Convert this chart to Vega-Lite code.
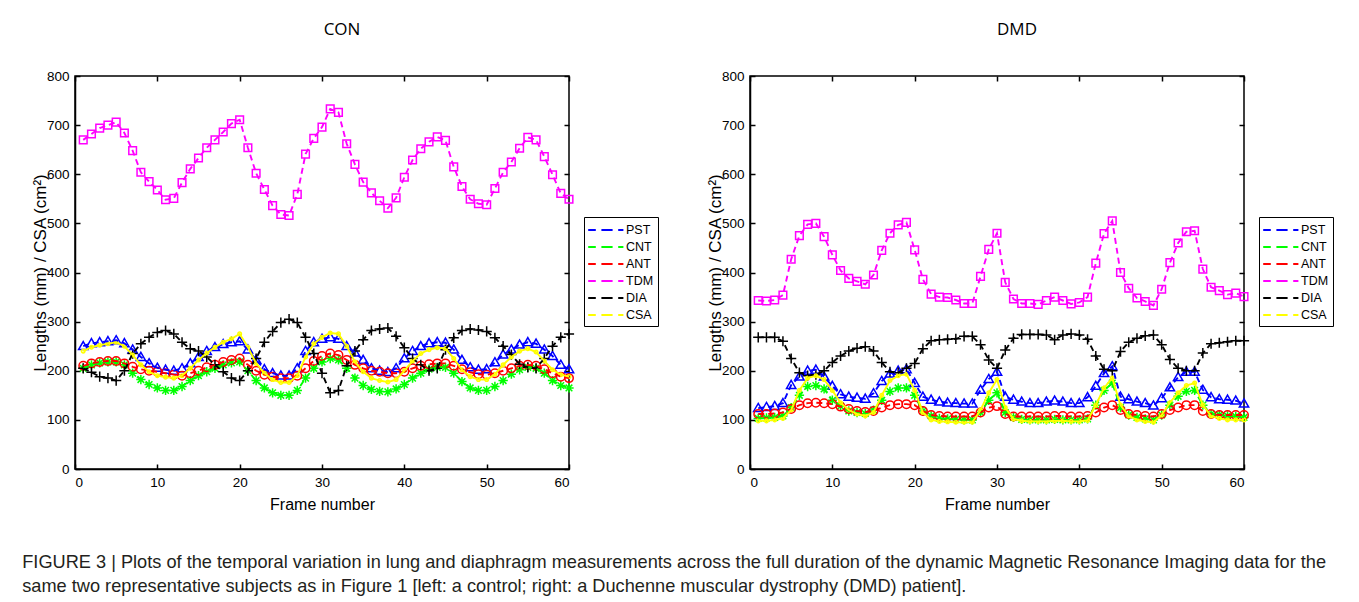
{
"$schema": "https://vega.github.io/schema/vega-lite/v6.json",
"background": "white",
"padding": {"left": 22, "top": 20, "right": 5, "bottom": 5},
"title": {"text": ["FIGURE 3 | Plots of the temporal variation in lung and diaphragm measurements across the full duration of the dynamic Magnetic Resonance Imaging data for the", "same two representative subjects as in Figure 1 [left: a control; right: a Duchenne muscular dystrophy (DMD) patient]."], "orient": "bottom", "anchor": "start", "frame": "bounds", "offset": 41, "dx": -8.5, "font": "Liberation Sans", "fontSize": 18.2, "fontWeight": "normal", "lineHeight": 24, "color": "#231F20"},
"datasets": {
"CON": [
{"series":"PST","frame":1,"value":250},{"series":"PST","frame":2,"value":256},{"series":"PST","frame":3,"value":258},{"series":"PST","frame":4,"value":260},{"series":"PST","frame":5,"value":262},{"series":"PST","frame":6,"value":256},{"series":"PST","frame":7,"value":243},{"series":"PST","frame":8,"value":228},{"series":"PST","frame":9,"value":215},{"series":"PST","frame":10,"value":206},{"series":"PST","frame":11,"value":202},{"series":"PST","frame":12,"value":200},{"series":"PST","frame":13,"value":205},{"series":"PST","frame":14,"value":215},{"series":"PST","frame":15,"value":228},{"series":"PST","frame":16,"value":240},{"series":"PST","frame":17,"value":248},{"series":"PST","frame":18,"value":254},{"series":"PST","frame":19,"value":258},{"series":"PST","frame":20,"value":260},{"series":"PST","frame":21,"value":243},{"series":"PST","frame":22,"value":222},{"series":"PST","frame":23,"value":203},{"series":"PST","frame":24,"value":195},{"series":"PST","frame":25,"value":190},{"series":"PST","frame":26,"value":190},{"series":"PST","frame":27,"value":205},{"series":"PST","frame":28,"value":240},{"series":"PST","frame":29,"value":258},{"series":"PST","frame":30,"value":265},{"series":"PST","frame":31,"value":268},{"series":"PST","frame":32,"value":265},{"series":"PST","frame":33,"value":250},{"series":"PST","frame":34,"value":237},{"series":"PST","frame":35,"value":222},{"series":"PST","frame":36,"value":205},{"series":"PST","frame":37,"value":200},{"series":"PST","frame":38,"value":197},{"series":"PST","frame":39,"value":205},{"series":"PST","frame":40,"value":225},{"series":"PST","frame":41,"value":240},{"series":"PST","frame":42,"value":250},{"series":"PST","frame":43,"value":256},{"series":"PST","frame":44,"value":258},{"series":"PST","frame":45,"value":257},{"series":"PST","frame":46,"value":243},{"series":"PST","frame":47,"value":222},{"series":"PST","frame":48,"value":207},{"series":"PST","frame":49,"value":202},{"series":"PST","frame":50,"value":203},{"series":"PST","frame":51,"value":217},{"series":"PST","frame":52,"value":233},{"series":"PST","frame":53,"value":243},{"series":"PST","frame":54,"value":253},{"series":"PST","frame":55,"value":258},{"series":"PST","frame":56,"value":255},{"series":"PST","frame":57,"value":243},{"series":"PST","frame":58,"value":230},{"series":"PST","frame":59,"value":212},{"series":"PST","frame":60,"value":203},
{"series":"CNT","frame":1,"value":205},{"series":"CNT","frame":2,"value":212},{"series":"CNT","frame":3,"value":216},{"series":"CNT","frame":4,"value":218},{"series":"CNT","frame":5,"value":218},{"series":"CNT","frame":6,"value":212},{"series":"CNT","frame":7,"value":195},{"series":"CNT","frame":8,"value":182},{"series":"CNT","frame":9,"value":172},{"series":"CNT","frame":10,"value":165},{"series":"CNT","frame":11,"value":160},{"series":"CNT","frame":12,"value":160},{"series":"CNT","frame":13,"value":168},{"series":"CNT","frame":14,"value":180},{"series":"CNT","frame":15,"value":190},{"series":"CNT","frame":16,"value":198},{"series":"CNT","frame":17,"value":205},{"series":"CNT","frame":18,"value":212},{"series":"CNT","frame":19,"value":216},{"series":"CNT","frame":20,"value":218},{"series":"CNT","frame":21,"value":200},{"series":"CNT","frame":22,"value":180},{"series":"CNT","frame":23,"value":165},{"series":"CNT","frame":24,"value":155},{"series":"CNT","frame":25,"value":150},{"series":"CNT","frame":26,"value":150},{"series":"CNT","frame":27,"value":160},{"series":"CNT","frame":28,"value":185},{"series":"CNT","frame":29,"value":205},{"series":"CNT","frame":30,"value":218},{"series":"CNT","frame":31,"value":225},{"series":"CNT","frame":32,"value":222},{"series":"CNT","frame":33,"value":205},{"series":"CNT","frame":34,"value":185},{"series":"CNT","frame":35,"value":170},{"series":"CNT","frame":36,"value":162},{"series":"CNT","frame":37,"value":158},{"series":"CNT","frame":38,"value":157},{"series":"CNT","frame":39,"value":163},{"series":"CNT","frame":40,"value":172},{"series":"CNT","frame":41,"value":185},{"series":"CNT","frame":42,"value":195},{"series":"CNT","frame":43,"value":203},{"series":"CNT","frame":44,"value":207},{"series":"CNT","frame":45,"value":207},{"series":"CNT","frame":46,"value":195},{"series":"CNT","frame":47,"value":178},{"series":"CNT","frame":48,"value":165},{"series":"CNT","frame":49,"value":160},{"series":"CNT","frame":50,"value":160},{"series":"CNT","frame":51,"value":168},{"series":"CNT","frame":52,"value":180},{"series":"CNT","frame":53,"value":193},{"series":"CNT","frame":54,"value":202},{"series":"CNT","frame":55,"value":207},{"series":"CNT","frame":56,"value":205},{"series":"CNT","frame":57,"value":195},{"series":"CNT","frame":58,"value":180},{"series":"CNT","frame":59,"value":170},{"series":"CNT","frame":60,"value":165},
{"series":"ANT","frame":1,"value":210},{"series":"ANT","frame":2,"value":215},{"series":"ANT","frame":3,"value":218},{"series":"ANT","frame":4,"value":220},{"series":"ANT","frame":5,"value":220},{"series":"ANT","frame":6,"value":215},{"series":"ANT","frame":7,"value":208},{"series":"ANT","frame":8,"value":203},{"series":"ANT","frame":9,"value":200},{"series":"ANT","frame":10,"value":198},{"series":"ANT","frame":11,"value":195},{"series":"ANT","frame":12,"value":192},{"series":"ANT","frame":13,"value":190},{"series":"ANT","frame":14,"value":195},{"series":"ANT","frame":15,"value":200},{"series":"ANT","frame":16,"value":207},{"series":"ANT","frame":17,"value":212},{"series":"ANT","frame":18,"value":218},{"series":"ANT","frame":19,"value":222},{"series":"ANT","frame":20,"value":225},{"series":"ANT","frame":21,"value":212},{"series":"ANT","frame":22,"value":200},{"series":"ANT","frame":23,"value":192},{"series":"ANT","frame":24,"value":188},{"series":"ANT","frame":25,"value":185},{"series":"ANT","frame":26,"value":185},{"series":"ANT","frame":27,"value":190},{"series":"ANT","frame":28,"value":205},{"series":"ANT","frame":29,"value":220},{"series":"ANT","frame":30,"value":230},{"series":"ANT","frame":31,"value":235},{"series":"ANT","frame":32,"value":232},{"series":"ANT","frame":33,"value":222},{"series":"ANT","frame":34,"value":212},{"series":"ANT","frame":35,"value":205},{"series":"ANT","frame":36,"value":200},{"series":"ANT","frame":37,"value":198},{"series":"ANT","frame":38,"value":195},{"series":"ANT","frame":39,"value":195},{"series":"ANT","frame":40,"value":198},{"series":"ANT","frame":41,"value":205},{"series":"ANT","frame":42,"value":210},{"series":"ANT","frame":43,"value":213},{"series":"ANT","frame":44,"value":215},{"series":"ANT","frame":45,"value":215},{"series":"ANT","frame":46,"value":210},{"series":"ANT","frame":47,"value":203},{"series":"ANT","frame":48,"value":197},{"series":"ANT","frame":49,"value":193},{"series":"ANT","frame":50,"value":192},{"series":"ANT","frame":51,"value":195},{"series":"ANT","frame":52,"value":200},{"series":"ANT","frame":53,"value":205},{"series":"ANT","frame":54,"value":210},{"series":"ANT","frame":55,"value":212},{"series":"ANT","frame":56,"value":210},{"series":"ANT","frame":57,"value":203},{"series":"ANT","frame":58,"value":195},{"series":"ANT","frame":59,"value":188},{"series":"ANT","frame":60,"value":185},
{"series":"TDM","frame":1,"value":670},{"series":"TDM","frame":2,"value":682},{"series":"TDM","frame":3,"value":694},{"series":"TDM","frame":4,"value":700},{"series":"TDM","frame":5,"value":706},{"series":"TDM","frame":6,"value":684},{"series":"TDM","frame":7,"value":648},{"series":"TDM","frame":8,"value":604},{"series":"TDM","frame":9,"value":585},{"series":"TDM","frame":10,"value":568},{"series":"TDM","frame":11,"value":548},{"series":"TDM","frame":12,"value":551},{"series":"TDM","frame":13,"value":583},{"series":"TDM","frame":14,"value":611},{"series":"TDM","frame":15,"value":633},{"series":"TDM","frame":16,"value":654},{"series":"TDM","frame":17,"value":670},{"series":"TDM","frame":18,"value":686},{"series":"TDM","frame":19,"value":703},{"series":"TDM","frame":20,"value":711},{"series":"TDM","frame":21,"value":654},{"series":"TDM","frame":22,"value":602},{"series":"TDM","frame":23,"value":569},{"series":"TDM","frame":24,"value":536},{"series":"TDM","frame":25,"value":518},{"series":"TDM","frame":26,"value":516},{"series":"TDM","frame":27,"value":559},{"series":"TDM","frame":28,"value":641},{"series":"TDM","frame":29,"value":673},{"series":"TDM","frame":30,"value":696},{"series":"TDM","frame":31,"value":733},{"series":"TDM","frame":32,"value":726},{"series":"TDM","frame":33,"value":662},{"series":"TDM","frame":34,"value":620},{"series":"TDM","frame":35,"value":584},{"series":"TDM","frame":36,"value":562},{"series":"TDM","frame":37,"value":546},{"series":"TDM","frame":38,"value":531},{"series":"TDM","frame":39,"value":552},{"series":"TDM","frame":40,"value":594},{"series":"TDM","frame":41,"value":629},{"series":"TDM","frame":42,"value":652},{"series":"TDM","frame":43,"value":666},{"series":"TDM","frame":44,"value":676},{"series":"TDM","frame":45,"value":669},{"series":"TDM","frame":46,"value":615},{"series":"TDM","frame":47,"value":575},{"series":"TDM","frame":48,"value":549},{"series":"TDM","frame":49,"value":540},{"series":"TDM","frame":50,"value":538},{"series":"TDM","frame":51,"value":571},{"series":"TDM","frame":52,"value":604},{"series":"TDM","frame":53,"value":625},{"series":"TDM","frame":54,"value":653},{"series":"TDM","frame":55,"value":675},{"series":"TDM","frame":56,"value":670},{"series":"TDM","frame":57,"value":636},{"series":"TDM","frame":58,"value":599},{"series":"TDM","frame":59,"value":561},{"series":"TDM","frame":60,"value":549},
{"series":"DIA","frame":1,"value":205},{"series":"DIA","frame":2,"value":197},{"series":"DIA","frame":3,"value":188},{"series":"DIA","frame":4,"value":185},{"series":"DIA","frame":5,"value":180},{"series":"DIA","frame":6,"value":200},{"series":"DIA","frame":7,"value":235},{"series":"DIA","frame":8,"value":255},{"series":"DIA","frame":9,"value":268},{"series":"DIA","frame":10,"value":278},{"series":"DIA","frame":11,"value":282},{"series":"DIA","frame":12,"value":275},{"series":"DIA","frame":13,"value":258},{"series":"DIA","frame":14,"value":245},{"series":"DIA","frame":15,"value":240},{"series":"DIA","frame":16,"value":228},{"series":"DIA","frame":17,"value":212},{"series":"DIA","frame":18,"value":198},{"series":"DIA","frame":19,"value":185},{"series":"DIA","frame":20,"value":180},{"series":"DIA","frame":21,"value":200},{"series":"DIA","frame":22,"value":225},{"series":"DIA","frame":23,"value":258},{"series":"DIA","frame":24,"value":280},{"series":"DIA","frame":25,"value":298},{"series":"DIA","frame":26,"value":305},{"series":"DIA","frame":27,"value":298},{"series":"DIA","frame":28,"value":268},{"series":"DIA","frame":29,"value":235},{"series":"DIA","frame":30,"value":195},{"series":"DIA","frame":31,"value":155},{"series":"DIA","frame":32,"value":160},{"series":"DIA","frame":33,"value":210},{"series":"DIA","frame":34,"value":240},{"series":"DIA","frame":35,"value":263},{"series":"DIA","frame":36,"value":282},{"series":"DIA","frame":37,"value":285},{"series":"DIA","frame":38,"value":287},{"series":"DIA","frame":39,"value":270},{"series":"DIA","frame":40,"value":247},{"series":"DIA","frame":41,"value":225},{"series":"DIA","frame":42,"value":212},{"series":"DIA","frame":43,"value":200},{"series":"DIA","frame":44,"value":205},{"series":"DIA","frame":45,"value":243},{"series":"DIA","frame":46,"value":267},{"series":"DIA","frame":47,"value":282},{"series":"DIA","frame":48,"value":285},{"series":"DIA","frame":49,"value":283},{"series":"DIA","frame":50,"value":280},{"series":"DIA","frame":51,"value":267},{"series":"DIA","frame":52,"value":250},{"series":"DIA","frame":53,"value":233},{"series":"DIA","frame":54,"value":213},{"series":"DIA","frame":55,"value":207},{"series":"DIA","frame":56,"value":205},{"series":"DIA","frame":57,"value":225},{"series":"DIA","frame":58,"value":250},{"series":"DIA","frame":59,"value":268},{"series":"DIA","frame":60,"value":275},
{"series":"CSA","frame":1,"value":240},{"series":"CSA","frame":2,"value":248},{"series":"CSA","frame":3,"value":252},{"series":"CSA","frame":4,"value":255},{"series":"CSA","frame":5,"value":258},{"series":"CSA","frame":6,"value":250},{"series":"CSA","frame":7,"value":232},{"series":"CSA","frame":8,"value":212},{"series":"CSA","frame":9,"value":198},{"series":"CSA","frame":10,"value":190},{"series":"CSA","frame":11,"value":187},{"series":"CSA","frame":12,"value":185},{"series":"CSA","frame":13,"value":190},{"series":"CSA","frame":14,"value":205},{"series":"CSA","frame":15,"value":222},{"series":"CSA","frame":16,"value":236},{"series":"CSA","frame":17,"value":248},{"series":"CSA","frame":18,"value":258},{"series":"CSA","frame":19,"value":265},{"series":"CSA","frame":20,"value":275},{"series":"CSA","frame":21,"value":248},{"series":"CSA","frame":22,"value":215},{"series":"CSA","frame":23,"value":195},{"series":"CSA","frame":24,"value":182},{"series":"CSA","frame":25,"value":176},{"series":"CSA","frame":26,"value":176},{"series":"CSA","frame":27,"value":190},{"series":"CSA","frame":28,"value":228},{"series":"CSA","frame":29,"value":255},{"series":"CSA","frame":30,"value":268},{"series":"CSA","frame":31,"value":277},{"series":"CSA","frame":32,"value":275},{"series":"CSA","frame":33,"value":250},{"series":"CSA","frame":34,"value":218},{"series":"CSA","frame":35,"value":198},{"series":"CSA","frame":36,"value":185},{"series":"CSA","frame":37,"value":180},{"series":"CSA","frame":38,"value":177},{"series":"CSA","frame":39,"value":182},{"series":"CSA","frame":40,"value":200},{"series":"CSA","frame":41,"value":220},{"series":"CSA","frame":42,"value":235},{"series":"CSA","frame":43,"value":243},{"series":"CSA","frame":44,"value":247},{"series":"CSA","frame":45,"value":245},{"series":"CSA","frame":46,"value":225},{"series":"CSA","frame":47,"value":202},{"series":"CSA","frame":48,"value":188},{"series":"CSA","frame":49,"value":182},{"series":"CSA","frame":50,"value":182},{"series":"CSA","frame":51,"value":193},{"series":"CSA","frame":52,"value":212},{"series":"CSA","frame":53,"value":228},{"series":"CSA","frame":54,"value":240},{"series":"CSA","frame":55,"value":245},{"series":"CSA","frame":56,"value":238},{"series":"CSA","frame":57,"value":220},{"series":"CSA","frame":58,"value":202},{"series":"CSA","frame":59,"value":192},{"series":"CSA","frame":60,"value":188}
],
"DMD": [
{"series":"PST","frame":1,"value":124},{"series":"PST","frame":2,"value":126},{"series":"PST","frame":3,"value":128},{"series":"PST","frame":4,"value":134},{"series":"PST","frame":5,"value":171},{"series":"PST","frame":6,"value":188},{"series":"PST","frame":7,"value":200},{"series":"PST","frame":8,"value":202},{"series":"PST","frame":9,"value":188},{"series":"PST","frame":10,"value":169},{"series":"PST","frame":11,"value":152},{"series":"PST","frame":12,"value":147},{"series":"PST","frame":13,"value":145},{"series":"PST","frame":14,"value":143},{"series":"PST","frame":15,"value":154},{"series":"PST","frame":16,"value":179},{"series":"PST","frame":17,"value":194},{"series":"PST","frame":18,"value":200},{"series":"PST","frame":19,"value":203},{"series":"PST","frame":20,"value":175},{"series":"PST","frame":21,"value":147},{"series":"PST","frame":22,"value":141},{"series":"PST","frame":23,"value":137},{"series":"PST","frame":24,"value":135},{"series":"PST","frame":25,"value":134},{"series":"PST","frame":26,"value":133},{"series":"PST","frame":27,"value":133},{"series":"PST","frame":28,"value":161},{"series":"PST","frame":29,"value":183},{"series":"PST","frame":30,"value":198},{"series":"PST","frame":31,"value":147},{"series":"PST","frame":32,"value":141},{"series":"PST","frame":33,"value":137},{"series":"PST","frame":34,"value":134},{"series":"PST","frame":35,"value":134},{"series":"PST","frame":36,"value":137},{"series":"PST","frame":37,"value":139},{"series":"PST","frame":38,"value":137},{"series":"PST","frame":39,"value":134},{"series":"PST","frame":40,"value":134},{"series":"PST","frame":41,"value":146},{"series":"PST","frame":42,"value":169},{"series":"PST","frame":43,"value":195},{"series":"PST","frame":44,"value":209},{"series":"PST","frame":45,"value":147},{"series":"PST","frame":46,"value":142},{"series":"PST","frame":47,"value":137},{"series":"PST","frame":48,"value":134},{"series":"PST","frame":49,"value":129},{"series":"PST","frame":50,"value":144},{"series":"PST","frame":51,"value":166},{"series":"PST","frame":52,"value":187},{"series":"PST","frame":53,"value":198},{"series":"PST","frame":54,"value":198},{"series":"PST","frame":55,"value":161},{"series":"PST","frame":56,"value":146},{"series":"PST","frame":57,"value":142},{"series":"PST","frame":58,"value":141},{"series":"PST","frame":59,"value":139},{"series":"PST","frame":60,"value":133},
{"series":"CNT","frame":1,"value":103},{"series":"CNT","frame":2,"value":104},{"series":"CNT","frame":3,"value":105},{"series":"CNT","frame":4,"value":108},{"series":"CNT","frame":5,"value":125},{"series":"CNT","frame":6,"value":150},{"series":"CNT","frame":7,"value":168},{"series":"CNT","frame":8,"value":170},{"series":"CNT","frame":9,"value":163},{"series":"CNT","frame":10,"value":140},{"series":"CNT","frame":11,"value":128},{"series":"CNT","frame":12,"value":118},{"series":"CNT","frame":13,"value":115},{"series":"CNT","frame":14,"value":113},{"series":"CNT","frame":15,"value":120},{"series":"CNT","frame":16,"value":140},{"series":"CNT","frame":17,"value":158},{"series":"CNT","frame":18,"value":165},{"series":"CNT","frame":19,"value":165},{"series":"CNT","frame":20,"value":150},{"series":"CNT","frame":21,"value":118},{"series":"CNT","frame":22,"value":108},{"series":"CNT","frame":23,"value":103},{"series":"CNT","frame":24,"value":102},{"series":"CNT","frame":25,"value":101},{"series":"CNT","frame":26,"value":100},{"series":"CNT","frame":27,"value":100},{"series":"CNT","frame":28,"value":115},{"series":"CNT","frame":29,"value":140},{"series":"CNT","frame":30,"value":155},{"series":"CNT","frame":31,"value":115},{"series":"CNT","frame":32,"value":105},{"series":"CNT","frame":33,"value":101},{"series":"CNT","frame":34,"value":100},{"series":"CNT","frame":35,"value":100},{"series":"CNT","frame":36,"value":100},{"series":"CNT","frame":37,"value":101},{"series":"CNT","frame":38,"value":100},{"series":"CNT","frame":39,"value":100},{"series":"CNT","frame":40,"value":100},{"series":"CNT","frame":41,"value":102},{"series":"CNT","frame":42,"value":130},{"series":"CNT","frame":43,"value":160},{"series":"CNT","frame":44,"value":175},{"series":"CNT","frame":45,"value":125},{"series":"CNT","frame":46,"value":110},{"series":"CNT","frame":47,"value":105},{"series":"CNT","frame":48,"value":102},{"series":"CNT","frame":49,"value":100},{"series":"CNT","frame":50,"value":110},{"series":"CNT","frame":51,"value":130},{"series":"CNT","frame":52,"value":148},{"series":"CNT","frame":53,"value":158},{"series":"CNT","frame":54,"value":160},{"series":"CNT","frame":55,"value":130},{"series":"CNT","frame":56,"value":112},{"series":"CNT","frame":57,"value":110},{"series":"CNT","frame":58,"value":108},{"series":"CNT","frame":59,"value":107},{"series":"CNT","frame":60,"value":105},
{"series":"ANT","frame":1,"value":112},{"series":"ANT","frame":2,"value":112},{"series":"ANT","frame":3,"value":113},{"series":"ANT","frame":4,"value":115},{"series":"ANT","frame":5,"value":122},{"series":"ANT","frame":6,"value":130},{"series":"ANT","frame":7,"value":134},{"series":"ANT","frame":8,"value":135},{"series":"ANT","frame":9,"value":134},{"series":"ANT","frame":10,"value":132},{"series":"ANT","frame":11,"value":127},{"series":"ANT","frame":12,"value":122},{"series":"ANT","frame":13,"value":118},{"series":"ANT","frame":14,"value":116},{"series":"ANT","frame":15,"value":118},{"series":"ANT","frame":16,"value":125},{"series":"ANT","frame":17,"value":130},{"series":"ANT","frame":18,"value":132},{"series":"ANT","frame":19,"value":132},{"series":"ANT","frame":20,"value":130},{"series":"ANT","frame":21,"value":118},{"series":"ANT","frame":22,"value":110},{"series":"ANT","frame":23,"value":108},{"series":"ANT","frame":24,"value":107},{"series":"ANT","frame":25,"value":107},{"series":"ANT","frame":26,"value":107},{"series":"ANT","frame":27,"value":107},{"series":"ANT","frame":28,"value":115},{"series":"ANT","frame":29,"value":125},{"series":"ANT","frame":30,"value":128},{"series":"ANT","frame":31,"value":112},{"series":"ANT","frame":32,"value":107},{"series":"ANT","frame":33,"value":107},{"series":"ANT","frame":34,"value":107},{"series":"ANT","frame":35,"value":107},{"series":"ANT","frame":36,"value":107},{"series":"ANT","frame":37,"value":108},{"series":"ANT","frame":38,"value":108},{"series":"ANT","frame":39,"value":107},{"series":"ANT","frame":40,"value":107},{"series":"ANT","frame":41,"value":108},{"series":"ANT","frame":42,"value":115},{"series":"ANT","frame":43,"value":125},{"series":"ANT","frame":44,"value":130},{"series":"ANT","frame":45,"value":120},{"series":"ANT","frame":46,"value":112},{"series":"ANT","frame":47,"value":110},{"series":"ANT","frame":48,"value":108},{"series":"ANT","frame":49,"value":107},{"series":"ANT","frame":50,"value":112},{"series":"ANT","frame":51,"value":120},{"series":"ANT","frame":52,"value":125},{"series":"ANT","frame":53,"value":130},{"series":"ANT","frame":54,"value":130},{"series":"ANT","frame":55,"value":118},{"series":"ANT","frame":56,"value":112},{"series":"ANT","frame":57,"value":110},{"series":"ANT","frame":58,"value":110},{"series":"ANT","frame":59,"value":110},{"series":"ANT","frame":60,"value":110},
{"series":"TDM","frame":1,"value":343},{"series":"TDM","frame":2,"value":342},{"series":"TDM","frame":3,"value":344},{"series":"TDM","frame":4,"value":354},{"series":"TDM","frame":5,"value":427},{"series":"TDM","frame":6,"value":475},{"series":"TDM","frame":7,"value":498},{"series":"TDM","frame":8,"value":500},{"series":"TDM","frame":9,"value":473},{"series":"TDM","frame":10,"value":436},{"series":"TDM","frame":11,"value":404},{"series":"TDM","frame":12,"value":388},{"series":"TDM","frame":13,"value":382},{"series":"TDM","frame":14,"value":376},{"series":"TDM","frame":15,"value":395},{"series":"TDM","frame":16,"value":445},{"series":"TDM","frame":17,"value":480},{"series":"TDM","frame":18,"value":497},{"series":"TDM","frame":19,"value":502},{"series":"TDM","frame":20,"value":446},{"series":"TDM","frame":21,"value":386},{"series":"TDM","frame":22,"value":356},{"series":"TDM","frame":23,"value":350},{"series":"TDM","frame":24,"value":349},{"series":"TDM","frame":25,"value":344},{"series":"TDM","frame":26,"value":337},{"series":"TDM","frame":27,"value":337},{"series":"TDM","frame":28,"value":392},{"series":"TDM","frame":29,"value":447},{"series":"TDM","frame":30,"value":480},{"series":"TDM","frame":31,"value":380},{"series":"TDM","frame":32,"value":346},{"series":"TDM","frame":33,"value":337},{"series":"TDM","frame":34,"value":337},{"series":"TDM","frame":35,"value":335},{"series":"TDM","frame":36,"value":343},{"series":"TDM","frame":37,"value":350},{"series":"TDM","frame":38,"value":343},{"series":"TDM","frame":39,"value":336},{"series":"TDM","frame":40,"value":339},{"series":"TDM","frame":41,"value":350},{"series":"TDM","frame":42,"value":419},{"series":"TDM","frame":43,"value":479},{"series":"TDM","frame":44,"value":505},{"series":"TDM","frame":45,"value":400},{"series":"TDM","frame":46,"value":368},{"series":"TDM","frame":47,"value":348},{"series":"TDM","frame":48,"value":341},{"series":"TDM","frame":49,"value":333},{"series":"TDM","frame":50,"value":366},{"series":"TDM","frame":51,"value":420},{"series":"TDM","frame":52,"value":460},{"series":"TDM","frame":53,"value":483},{"series":"TDM","frame":54,"value":485},{"series":"TDM","frame":55,"value":407},{"series":"TDM","frame":56,"value":370},{"series":"TDM","frame":57,"value":363},{"series":"TDM","frame":58,"value":355},{"series":"TDM","frame":59,"value":358},{"series":"TDM","frame":60,"value":351},
{"series":"DIA","frame":1,"value":268},{"series":"DIA","frame":2,"value":268},{"series":"DIA","frame":3,"value":268},{"series":"DIA","frame":4,"value":260},{"series":"DIA","frame":5,"value":225},{"series":"DIA","frame":6,"value":196},{"series":"DIA","frame":7,"value":190},{"series":"DIA","frame":8,"value":192},{"series":"DIA","frame":9,"value":200},{"series":"DIA","frame":10,"value":217},{"series":"DIA","frame":11,"value":230},{"series":"DIA","frame":12,"value":240},{"series":"DIA","frame":13,"value":246},{"series":"DIA","frame":14,"value":249},{"series":"DIA","frame":15,"value":240},{"series":"DIA","frame":16,"value":217},{"series":"DIA","frame":17,"value":198},{"series":"DIA","frame":18,"value":196},{"series":"DIA","frame":19,"value":205},{"series":"DIA","frame":20,"value":215},{"series":"DIA","frame":21,"value":245},{"series":"DIA","frame":22,"value":261},{"series":"DIA","frame":23,"value":263},{"series":"DIA","frame":24,"value":264},{"series":"DIA","frame":25,"value":265},{"series":"DIA","frame":26,"value":270},{"series":"DIA","frame":27,"value":270},{"series":"DIA","frame":28,"value":253},{"series":"DIA","frame":29,"value":222},{"series":"DIA","frame":30,"value":205},{"series":"DIA","frame":31,"value":242},{"series":"DIA","frame":32,"value":266},{"series":"DIA","frame":33,"value":274},{"series":"DIA","frame":34,"value":274},{"series":"DIA","frame":35,"value":274},{"series":"DIA","frame":36,"value":273},{"series":"DIA","frame":37,"value":263},{"series":"DIA","frame":38,"value":273},{"series":"DIA","frame":39,"value":275},{"series":"DIA","frame":40,"value":273},{"series":"DIA","frame":41,"value":264},{"series":"DIA","frame":42,"value":230},{"series":"DIA","frame":43,"value":203},{"series":"DIA","frame":44,"value":200},{"series":"DIA","frame":45,"value":239},{"series":"DIA","frame":46,"value":258},{"series":"DIA","frame":47,"value":266},{"series":"DIA","frame":48,"value":271},{"series":"DIA","frame":49,"value":273},{"series":"DIA","frame":50,"value":253},{"series":"DIA","frame":51,"value":223},{"series":"DIA","frame":52,"value":205},{"series":"DIA","frame":53,"value":200},{"series":"DIA","frame":54,"value":200},{"series":"DIA","frame":55,"value":236},{"series":"DIA","frame":56,"value":255},{"series":"DIA","frame":57,"value":257},{"series":"DIA","frame":58,"value":259},{"series":"DIA","frame":59,"value":261},{"series":"DIA","frame":60,"value":261},
{"series":"CSA","frame":1,"value":98},{"series":"CSA","frame":2,"value":98},{"series":"CSA","frame":3,"value":100},{"series":"CSA","frame":4,"value":103},{"series":"CSA","frame":5,"value":120},{"series":"CSA","frame":6,"value":160},{"series":"CSA","frame":7,"value":185},{"series":"CSA","frame":8,"value":190},{"series":"CSA","frame":9,"value":182},{"series":"CSA","frame":10,"value":160},{"series":"CSA","frame":11,"value":135},{"series":"CSA","frame":12,"value":120},{"series":"CSA","frame":13,"value":112},{"series":"CSA","frame":14,"value":108},{"series":"CSA","frame":15,"value":115},{"series":"CSA","frame":16,"value":150},{"series":"CSA","frame":17,"value":180},{"series":"CSA","frame":18,"value":190},{"series":"CSA","frame":19,"value":193},{"series":"CSA","frame":20,"value":160},{"series":"CSA","frame":21,"value":115},{"series":"CSA","frame":22,"value":100},{"series":"CSA","frame":23,"value":97},{"series":"CSA","frame":24,"value":96},{"series":"CSA","frame":25,"value":95},{"series":"CSA","frame":26,"value":95},{"series":"CSA","frame":27,"value":95},{"series":"CSA","frame":28,"value":120},{"series":"CSA","frame":29,"value":155},{"series":"CSA","frame":30,"value":182},{"series":"CSA","frame":31,"value":125},{"series":"CSA","frame":32,"value":102},{"series":"CSA","frame":33,"value":98},{"series":"CSA","frame":34,"value":97},{"series":"CSA","frame":35,"value":97},{"series":"CSA","frame":36,"value":97},{"series":"CSA","frame":37,"value":98},{"series":"CSA","frame":38,"value":98},{"series":"CSA","frame":39,"value":97},{"series":"CSA","frame":40,"value":97},{"series":"CSA","frame":41,"value":99},{"series":"CSA","frame":42,"value":130},{"series":"CSA","frame":43,"value":165},{"series":"CSA","frame":44,"value":185},{"series":"CSA","frame":45,"value":130},{"series":"CSA","frame":46,"value":108},{"series":"CSA","frame":47,"value":100},{"series":"CSA","frame":48,"value":97},{"series":"CSA","frame":49,"value":95},{"series":"CSA","frame":50,"value":110},{"series":"CSA","frame":51,"value":135},{"series":"CSA","frame":52,"value":155},{"series":"CSA","frame":53,"value":170},{"series":"CSA","frame":54,"value":175},{"series":"CSA","frame":55,"value":130},{"series":"CSA","frame":56,"value":108},{"series":"CSA","frame":57,"value":103},{"series":"CSA","frame":58,"value":100},{"series":"CSA","frame":59,"value":100},{"series":"CSA","frame":60,"value":100}
]
},
"spacing": 181,
"bounds": "flush",
"resolve": {"scale": {"color": "independent", "shape": "independent", "strokeDash": "independent"}, "legend": {"color": "independent"}},
"hconcat": [
{
"width": 494, "height": 393,
"data": {"name": "CON"},
"title": {"text": "CON", "anchor": "middle", "frame": "group", "dx": 20, "offset": 30, "font": "Open Sans", "fontSize": 17, "fontWeight": "normal", "color": "black"},
"layer": [
{"mark": {"type": "point", "filled": false, "strokeWidth": 1.5, "size": 72, "opacity": 1},
 "encoding": {
  "x": {"field": "frame", "type": "quantitative", "scale": {"domain": [0, 60], "nice": false}, "axis": {"orient": "top", "values": [0, 10, 20, 30, 40, 50, 60], "labels": false, "title": null, "domain": false}},
  "y": {"field": "value", "type": "quantitative", "scale": {"domain": [0, 800], "nice": false}, "axis": {"orient": "right", "values": [0, 100, 200, 300, 400, 500, 600, 700, 800], "labels": false, "title": null, "domain": false}},
  "color": {"field": "series", "type": "nominal", "scale": {"domain": ["PST", "CNT", "ANT", "TDM", "DIA", "CSA"], "range": ["#0000FF", "#00FF00", "#FF0000", "#FF00FF", "#000000", "#FFFF00"]},
   "legend": {"orient": "none", "legendX": 509, "legendY": 141, "title": null, "padding": 4, "rowPadding": 1, "symbolSize": 256, "symbolStrokeWidth": 1.8, "symbolType": "M-1.1,0H-0.15M0.55,0H1.95M2.65,0H3.3", "labelOffset": 20, "labelFont": "Liberation Sans", "labelFontSize": 12.5, "labelColor": "black", "strokeColor": "black",
    "encode": {"symbols": {"fill": {"value": "transparent"}}}}},
  "shape": {"field": "series", "type": "nominal", "scale": {"domain": ["CSA", "PST", "CNT", "ANT", "TDM", "DIA"], "range": ["M-0.42,0A0.42,0.42 0 1,0 0.42,0A0.42,0.42 0 1,0 -0.42,0", "M0,-1.1L1.1,0.8H-1.1Z", "M0,-1.1V1.1M-1.1,0H1.1M-0.78,-0.78L0.78,0.78M-0.78,0.78L0.78,-0.78", "M-1,0A1,1 0 1,0 1,0A1,1 0 1,0 -1,0", "M-0.9,-0.9H0.9V0.9H-0.9Z", "M0,-1.2V1.2M-1.2,0H1.2"]}, "legend": null}
 }},
{"mark": {"type": "line", "strokeWidth": 1.9},
 "encoding": {
  "x": {"field": "frame", "type": "quantitative", "scale": {"domain": [0, 60], "nice": false}, "axis": {"orient": "bottom", "values": [0, 10, 20, 30, 40, 50, 60], "title": "Frame number", "titlePadding": 8}},
  "y": {"field": "value", "type": "quantitative", "scale": {"domain": [0, 800], "nice": false}, "axis": {"orient": "left", "values": [0, 100, 200, 300, 400, 500, 600, 700, 800], "title": "Lengths (mm) / CSA (cm²)", "titlePadding": -3, "titleFontSize": 17}},
  "color": {"field": "series", "type": "nominal", "scale": {"domain": ["PST", "CNT", "ANT", "TDM", "DIA", "CSA"], "range": ["#0000FF", "#00FF00", "#FF0000", "#FF00FF", "#000000", "#FFFF00"]}},
  "strokeDash": {"field": "series", "type": "nominal", "scale": {"domain": ["TDM", "DIA", "CSA", "PST", "CNT", "ANT"], "range": [[6, 4], [6, 4], [1, 0], [6, 4], [6, 4], [6, 4]]}, "legend": null}
 }}
]
},
{
"width": 494, "height": 393,
"data": {"name": "DMD"},
"title": {"text": "DMD", "anchor": "middle", "frame": "group", "dx": 20, "offset": 30, "font": "Open Sans", "fontSize": 17, "fontWeight": "normal", "color": "black"},
"layer": [
{"mark": {"type": "point", "filled": false, "strokeWidth": 1.5, "size": 72, "opacity": 1},
 "encoding": {
  "x": {"field": "frame", "type": "quantitative", "scale": {"domain": [0, 60], "nice": false}, "axis": {"orient": "top", "values": [0, 10, 20, 30, 40, 50, 60], "labels": false, "title": null, "domain": false}},
  "y": {"field": "value", "type": "quantitative", "scale": {"domain": [0, 800], "nice": false}, "axis": {"orient": "right", "values": [0, 100, 200, 300, 400, 500, 600, 700, 800], "labels": false, "title": null, "domain": false}},
  "color": {"field": "series", "type": "nominal", "scale": {"domain": ["PST", "CNT", "ANT", "TDM", "DIA", "CSA"], "range": ["#0000FF", "#00FF00", "#FF0000", "#FF00FF", "#000000", "#FFFF00"]},
   "legend": {"orient": "none", "legendX": 509, "legendY": 141, "title": null, "padding": 4, "rowPadding": 1, "symbolSize": 256, "symbolStrokeWidth": 1.8, "symbolType": "M-1.1,0H-0.15M0.55,0H1.95M2.65,0H3.3", "labelOffset": 20, "labelFont": "Liberation Sans", "labelFontSize": 12.5, "labelColor": "black", "strokeColor": "black",
    "encode": {"symbols": {"fill": {"value": "transparent"}}}}},
  "shape": {"field": "series", "type": "nominal", "scale": {"domain": ["CSA", "PST", "CNT", "ANT", "TDM", "DIA"], "range": ["M-0.42,0A0.42,0.42 0 1,0 0.42,0A0.42,0.42 0 1,0 -0.42,0", "M0,-1.1L1.1,0.8H-1.1Z", "M0,-1.1V1.1M-1.1,0H1.1M-0.78,-0.78L0.78,0.78M-0.78,0.78L0.78,-0.78", "M-1,0A1,1 0 1,0 1,0A1,1 0 1,0 -1,0", "M-0.9,-0.9H0.9V0.9H-0.9Z", "M0,-1.2V1.2M-1.2,0H1.2"]}, "legend": null}
 }},
{"mark": {"type": "line", "strokeWidth": 1.9},
 "encoding": {
  "x": {"field": "frame", "type": "quantitative", "scale": {"domain": [0, 60], "nice": false}, "axis": {"orient": "bottom", "values": [0, 10, 20, 30, 40, 50, 60], "title": "Frame number", "titlePadding": 8}},
  "y": {"field": "value", "type": "quantitative", "scale": {"domain": [0, 800], "nice": false}, "axis": {"orient": "left", "values": [0, 100, 200, 300, 400, 500, 600, 700, 800], "title": "Lengths (mm) / CSA (cm²)", "titlePadding": -3, "titleFontSize": 17}},
  "color": {"field": "series", "type": "nominal", "scale": {"domain": ["PST", "CNT", "ANT", "TDM", "DIA", "CSA"], "range": ["#0000FF", "#00FF00", "#FF0000", "#FF00FF", "#000000", "#FFFF00"]}},
  "strokeDash": {"field": "series", "type": "nominal", "scale": {"domain": ["TDM", "DIA", "CSA", "PST", "CNT", "ANT"], "range": [[6, 4], [6, 4], [1, 0], [6, 4], [6, 4], [6, 4]]}, "legend": null}
 }}
]
}
],
"config": {
 "font": "Liberation Sans",
 "view": {"stroke": "black", "strokeWidth": 1.5},
 "axis": {"grid": false, "domainColor": "black", "domainWidth": 1.5, "tickColor": "black", "tickWidth": 1.5, "tickSize": -5, "labelPadding": 11, "labelFont": "Liberation Sans", "labelFontSize": 13.5, "labelColor": "black", "titleFont": "Liberation Sans", "titleFontSize": 16, "titleFontWeight": "normal", "titleColor": "black", "titlePadding": 2}
}
}
